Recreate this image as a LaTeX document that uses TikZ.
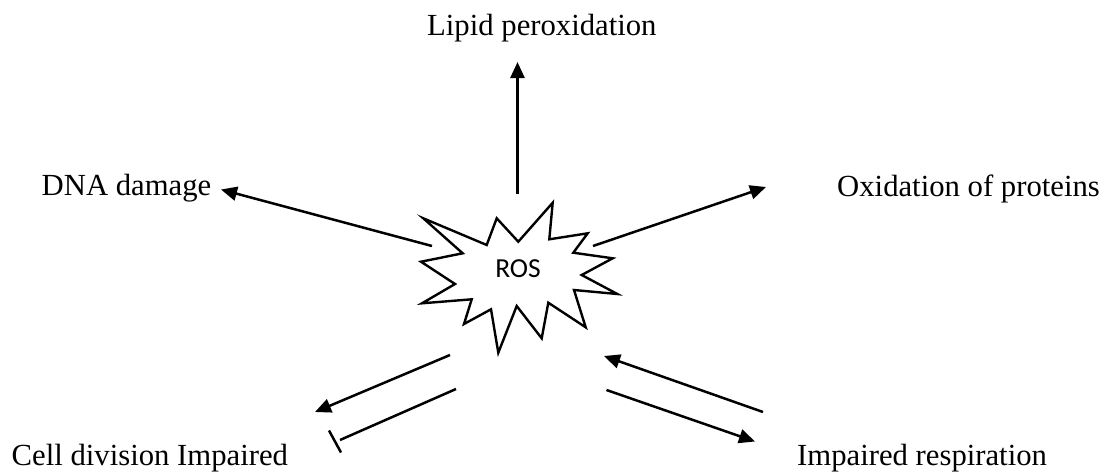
\documentclass[tikz,border=0pt]{standalone}
\usepackage{fontspec}
\setmainfont{Liberation Serif}
\newfontfamily\calibrifont{Carlito}
\usetikzlibrary{arrows.meta}
\tikzset{
  lbl/.style={inner sep=0pt, anchor=base west, font=\fontsize{30.7}{36}\selectfont},
  conn/.style={line width=2.5pt, -{Triangle[length=16pt,width=14pt]}},
  inhib/.style={line width=2.5pt},
  burst/.style={line width=2.4pt, line join=miter},
}
\begin{document}
\begin{tikzpicture}[x=1pt,y=-1pt]
\useasboundingbox (0,0) rectangle (1109,472);
% labels
\node[lbl] (lipid) at (427,35) {Lipid peroxidation};
\node[lbl] (dna) at (41.5,195) {DNA damage};
\node[lbl] (oxid) at (837,196) {Oxidation of proteins};
\node[lbl] (cell) at (11.5,465) {Cell division Impaired};
\node[lbl] (resp) at (797,465) {Impaired respiration};
% starburst
\draw[burst] (423.3,218.3) -- (486.7,245) -- (496.7,218.3) -- (518.3,241.7)
  -- (552.7,202.7) -- (549.3,239.3) -- (587.7,233.3) -- (573.3,252.7)
  -- (612.7,258.3) -- (581.7,275) -- (617.3,294) -- (574,290)
  -- (585.7,327.3) -- (548.3,302.7) -- (541.7,338.3) -- (516.7,306)
  -- (498.3,352.7) -- (491,309.3) -- (464,324) -- (471.7,299.3)
  -- (422,303.3) -- (455,284) -- (421,261.7) -- (462.7,253.3) -- cycle;
\node[inner sep=0pt, font=\calibrifont\fontsize{27.5}{32}\selectfont] (ros) at (518,268.5) {ROS};
% connector end points
\coordinate (lipS) at (517.5,194);
\coordinate (lipT) at (517.5,62);
\coordinate (dnaS) at (432,246);
\coordinate (dnaT) at (221,189.5);
\coordinate (oxS) at (593,246);
\coordinate (oxT) at (766,187);
\coordinate (celS) at (450,355);
\coordinate (celT) at (315,412);
\coordinate (inhS) at (456,389);
\coordinate (inhT) at (340,440);
\coordinate (barA) at (329,430.5);
\coordinate (barB) at (341,452.5);
\coordinate (resUS) at (763,412);
\coordinate (resUT) at (604,356);
\coordinate (resDS) at (606.5,390);
\coordinate (resDT) at (755,441.5);
% connectors
\draw[conn] (lipS) -- (lipT);
\draw[conn] (dnaS) -- (dnaT);
\draw[conn] (oxS) -- (oxT);
\draw[conn] (celS) -- (celT);
\draw[inhib] (inhS) -- (inhT);
\draw[inhib] (barA) -- (barB);
\draw[conn] (resUS) -- (resUT);
\draw[conn] (resDS) -- (resDT);
\end{tikzpicture}
\end{document}
